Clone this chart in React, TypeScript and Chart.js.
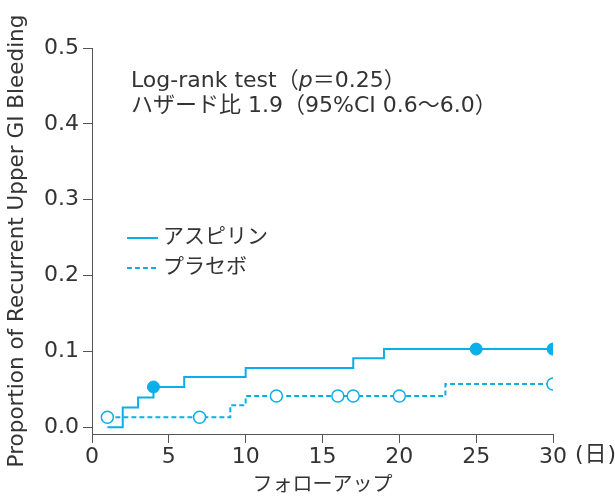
import React, { useEffect, useRef } from 'react';
import { Chart, registerables } from 'chart.js';

Chart.register(...registerables);

const aspirinDays = [1, 2, 3, 4, 6, 10, 17, 19, 25, 30];
const aspirinValues = [0, 0.026, 0.039, 0.053, 0.066, 0.078, 0.091, 0.103, 0.103, 0.103];
const aspirinMarkerDays = [4, 25, 30];

const placeboDays = [1, 7, 9, 10, 12, 16, 17, 20, 23, 30];
const placeboValues = [0.013, 0.013, 0.029, 0.041, 0.041, 0.041, 0.041, 0.041, 0.057, 0.057];
const placeboMarkerDays = [1, 7, 12, 16, 17, 20, 30];

const xTickValues = [0, 5, 10, 15, 20, 25, 30];
const yTickValues = [0, 0.1, 0.2, 0.3, 0.4, 0.5];

const seriesLabels = ['アスピリン', 'プラセボ'];
const annotationLine1 = ['Log-rank test（', 'p', '＝0.25）'];
const annotationLine2 = 'ハザード比 1.9（95%CI 0.6〜6.0）';
const xUnit = '(日)';
const xTitle = 'フォローアップ';
const yTitle = 'Proportion of Recurrent Upper GI Bleeding';

const CYAN = '#0aaee9';
const TEXT = '#333333';
const AXIS = '#555555';
const FONT = '"DejaVu Sans", "Noto Sans CJK JP", sans-serif';

const overlayPlugin = {
  id: 'overlay',
  afterDraw(chart: any) {
    const ctx = chart.ctx as any;
    ctx.save();
    ctx.fillStyle = TEXT;
    ctx.textBaseline = 'middle';
    ctx.textAlign = 'left';
    // annotation
    let x = 131;
    ctx.font = `22px ${FONT}`;
    ctx.fillText(annotationLine1[0], x, 81);
    x += ctx.measureText(annotationLine1[0]).width;
    ctx.font = `italic 22px ${FONT}`;
    ctx.fillText(annotationLine1[1], x, 81);
    x += ctx.measureText(annotationLine1[1]).width;
    ctx.font = `22px ${FONT}`;
    ctx.fillText(annotationLine1[2], x, 81);
    ctx.fillText(annotationLine2, 131, 106);

    // legend
    ctx.strokeStyle = CYAN;
    ctx.lineWidth = 2;
    ctx.beginPath();
    ctx.moveTo(127, 238);
    ctx.lineTo(158, 238);
    ctx.stroke();
    ctx.setLineDash([5, 3]);
    ctx.beginPath();
    ctx.moveTo(127, 268);
    ctx.lineTo(158, 268);
    ctx.stroke();
    ctx.setLineDash([]);
    ctx.font = `21px ${FONT}`;
    ctx.fillText(seriesLabels[0], 163, 238);
    ctx.fillText(seriesLabels[1], 163, 268);

    // x unit
    const xs = chart.scales.x;
    ctx.font = `22px ${FONT}`;
    ctx.letterSpacing = '1px';
    ctx.fillText(xUnit, xs.getPixelForValue(30) + 22, 455);
    ctx.restore();
  },
};

function markerRadii(days: number[], markers: number[]) {
  return days.map((d) => (markers.includes(d) ? 6 : 0));
}

export default function App() {
  const ref = useRef<HTMLCanvasElement | null>(null);
  useEffect(() => {
    document.body.style.margin = '0';
    const canvas = ref.current!;
    const chart = new Chart(canvas, {
      type: 'line',
      data: {
        datasets: [
          {
            label: seriesLabels[1],
            data: placeboDays.map((d, i) => ({ x: d, y: placeboValues[i] })),
            borderColor: CYAN,
            borderWidth: 2,
            borderDash: [5, 3],
            stepped: true,
            pointRadius: markerRadii(placeboDays, placeboMarkerDays),
            pointBackgroundColor: '#ffffff',
            pointBorderColor: CYAN,
            pointBorderWidth: 1.5,
            fill: false,
          },
          {
            label: seriesLabels[0],
            data: aspirinDays.map((d, i) => ({ x: d, y: aspirinValues[i] })),
            borderColor: CYAN,
            borderWidth: 2,
            stepped: true,
            pointRadius: markerRadii(aspirinDays, aspirinMarkerDays),
            pointBackgroundColor: CYAN,
            pointBorderColor: CYAN,
            pointBorderWidth: 1,
            fill: false,
          },
        ],
      },
      options: {
        responsive: false,
        animation: false,
        devicePixelRatio: 1,
        layout: { padding: { top: 48, right: 62, left: 0, bottom: 0 } },
        plugins: {
          legend: { display: false },
          tooltip: { enabled: false },
        },
        scales: {
          x: {
            type: 'linear',
            min: 0,
            max: 30,
            afterBuildTicks: (s: any) => {
              s.ticks = xTickValues.map((v) => ({ value: v }));
            },
            afterFit: (s: any) => {
              s.height = 62;
            },
            grid: {
              drawOnChartArea: false,
              drawTicks: true,
              tickLength: 9,
              tickColor: AXIS,
              tickWidth: 1,
            },
            border: { display: true, color: AXIS, width: 1 },
            ticks: {
              color: TEXT,
              font: { family: FONT, size: 22 },
              padding: 1,
              maxRotation: 0,
              autoSkip: false,
            },
            title: {
              display: true,
              text: xTitle,
              color: TEXT,
              font: { family: FONT, size: 20, lineHeight: 1 },
              padding: { top: 0, bottom: 0 },
            },
          },
          y: {
            type: 'linear',
            min: -0.009,
            max: 0.5,
            afterBuildTicks: (s: any) => {
              s.ticks = yTickValues.map((v) => ({ value: v }));
            },
            afterFit: (s: any) => {
              s.width = 92;
            },
            grid: {
              drawOnChartArea: false,
              drawTicks: true,
              tickLength: 9,
              tickColor: AXIS,
              tickWidth: 1,
            },
            border: { display: true, color: AXIS, width: 1 },
            ticks: {
              color: TEXT,
              font: { family: FONT, size: 22 },
              padding: 4,
              callback: (v: any) => Number(v).toFixed(1),
            },
            title: {
              display: true,
              text: yTitle,
              color: TEXT,
              font: { family: FONT, size: 21.5, lineHeight: 1.2 },
              padding: { top: 5, bottom: 0 },
            },
          },
        },
      },
      plugins: [overlayPlugin],
    });
    return () => chart.destroy();
  }, []);
  return (
    <div style={{ position: 'absolute', left: 0, top: 0, width: 615, height: 496, background: '#fff' }}>
      <canvas ref={ref} width={615} height={496} />
    </div>
  );
}
